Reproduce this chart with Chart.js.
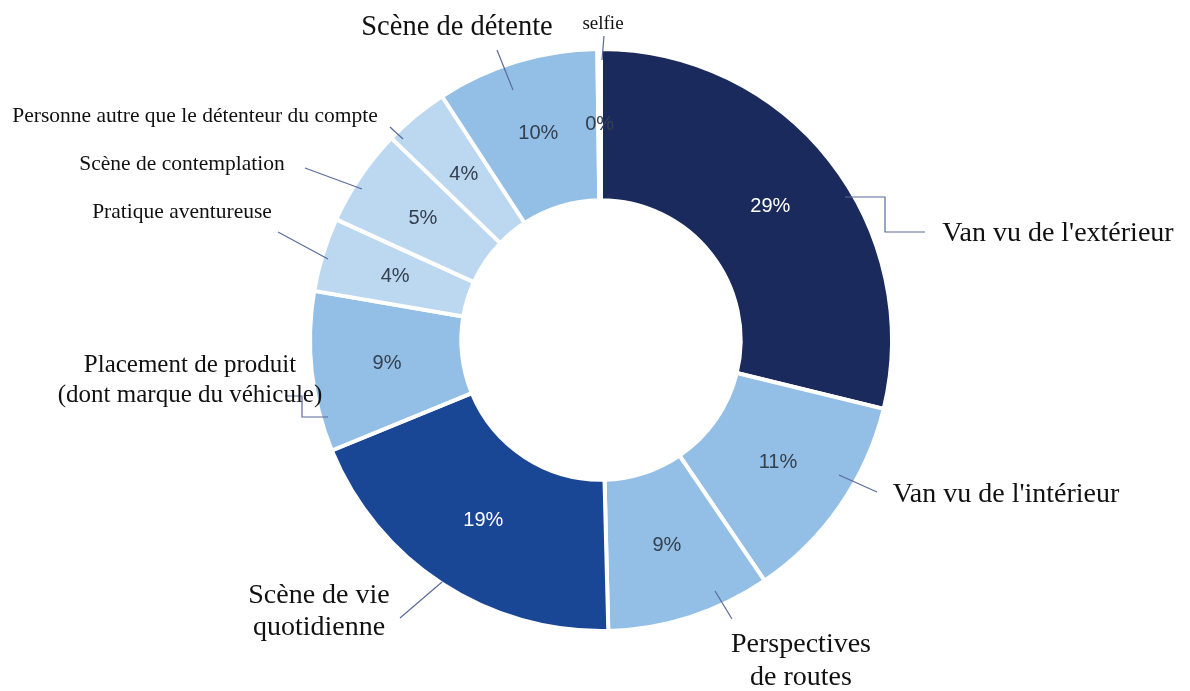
<!DOCTYPE html>
<html>
<head>
<meta charset="utf-8">
<script src="https://cdn.jsdelivr.net/npm/chart.js@4"></script>
<style>
  html, body { margin: 0; padding: 0; background: #fff; }
  canvas { display: block; }
</style>
</head>
<body>
<canvas id="grafico" width="1190" height="691"></canvas>
<script>
// categories, clockwise from the top
const categories = [
  "Van vu de l'extérieur", "Van vu de l'intérieur", 'Perspectives de routes',
  'Scène de vie quotidienne', 'Placement de produit (dont marque du véhicule)',
  'Pratique aventureuse', 'Scène de contemplation',
  'Personne autre que le détenteur du compte', 'Scène de détente', 'selfie'
]
// share of posts
const shares = [28.8, 11.7, 9.1, 19.2, 8.9, 4.1, 5.4, 3.6, 9.0, 0.2]
// printed percentage labels
const pctLabels = ['29%', '11%', '9%', '19%', '9%', '4%', '5%', '4%', '10%', '0%']

const colors = ['#1b2a5c', '#93bfe6', '#93bfe6', '#1a4795', '#93bfe6',
  '#bcd7f0', '#bcd7f0', '#bcd7f0', '#93bfe6', '#93bfe6']
const pctColors = ['#ffffff', '#33404f', '#33404f', '#ffffff', '#33404f',
  '#33404f', '#33404f', '#33404f', '#33404f', '#33404f']

// outside labels: text lines, size, center x, first baseline, line height, leader line
const outsideLabels = [
  { lines: ["Van vu de l'extérieur"], size: 28, x: 1058, y: 241, lh: 0, leader: [[845, 197], [885, 197], [885, 232], [925, 232]] },
  { lines: ["Van vu de l'intérieur"], size: 28, x: 1006, y: 502, lh: 0, leader: [[839, 475], [877, 492]] },
  { lines: ['Perspectives', 'de routes'], size: 28, x: 801, y: 652, lh: 33, leader: [[715, 591], [732, 619]] },
  { lines: ['Scène de vie', 'quotidienne'], size: 28, x: 319, y: 603, lh: 32, leader: [[442, 582], [400, 618]] },
  { lines: ['Placement de produit', '(dont marque du véhicule)'], size: 25, x: 190, y: 372, lh: 30, leader: [[328, 417], [302, 417], [302, 396], [285, 396]] },
  { lines: ['Pratique aventureuse'], size: 21.5, x: 182, y: 218, lh: 0, leader: [[328, 259], [278, 232]] },
  { lines: ['Scène de contemplation'], size: 21.5, x: 182, y: 170, lh: 0, leader: [[362, 189], [305, 168]] },
  { lines: ['Personne autre que le détenteur du compte'], size: 21.5, x: 195, y: 122, lh: 0, leader: [[403, 139], [390, 127]] },
  { lines: ['Scène de détente'], size: 28.5, x: 457, y: 35, lh: 0, leader: [[513, 90], [497, 50]] },
  { lines: ['selfie'], size: 19, x: 603, y: 29, lh: 0, leader: [[602, 60], [604, 36]] }
]

const labelPlugin = {
  id: 'labelPlugin',
  afterDatasetsDraw(chart) {
    const ctx = chart.ctx
    const arcs = chart.getDatasetMeta(0).data
    ctx.save()
    // percentages inside the slices
    ctx.font = '20px "Liberation Sans", Arial, sans-serif'
    ctx.textAlign = 'center'
    ctx.textBaseline = 'middle'
    arcs.forEach((arc, i) => {
      const p = arc.tooltipPosition()
      ctx.fillStyle = pctColors[i]
      ctx.fillText(pctLabels[i], p.x, p.y)
    })
    // leader lines and category names
    outsideLabels.forEach(l => {
      ctx.strokeStyle = '#5b6b9c'
      ctx.lineWidth = 1.2
      ctx.beginPath()
      l.leader.forEach((pt, k) => k ? ctx.lineTo(pt[0], pt[1]) : ctx.moveTo(pt[0], pt[1]))
      ctx.stroke()
      ctx.fillStyle = '#111'
      ctx.font = l.size + 'px "Liberation Serif", "Times New Roman", serif'
      ctx.textBaseline = 'alphabetic'
      l.lines.forEach((t, k) => ctx.fillText(t, l.x, l.y + k * l.lh))
    })
    ctx.restore()
  }
}

new Chart(document.getElementById('grafico'), {
  type: 'doughnut',
  data: {
    labels: categories,
    datasets: [{
      data: shares,
      backgroundColor: colors,
      borderColor: '#ffffff',
      borderWidth: 4
    }]
  },
  options: {
    responsive: false,
    animation: false,
    cutout: '48%',
    layout: { padding: { top: 47, bottom: 58, left: 12, right: 0 } },
    plugins: {
      legend: { display: false },
      tooltip: { enabled: false }
    }
  },
  plugins: [labelPlugin]
})
</script>
</body>
</html>
